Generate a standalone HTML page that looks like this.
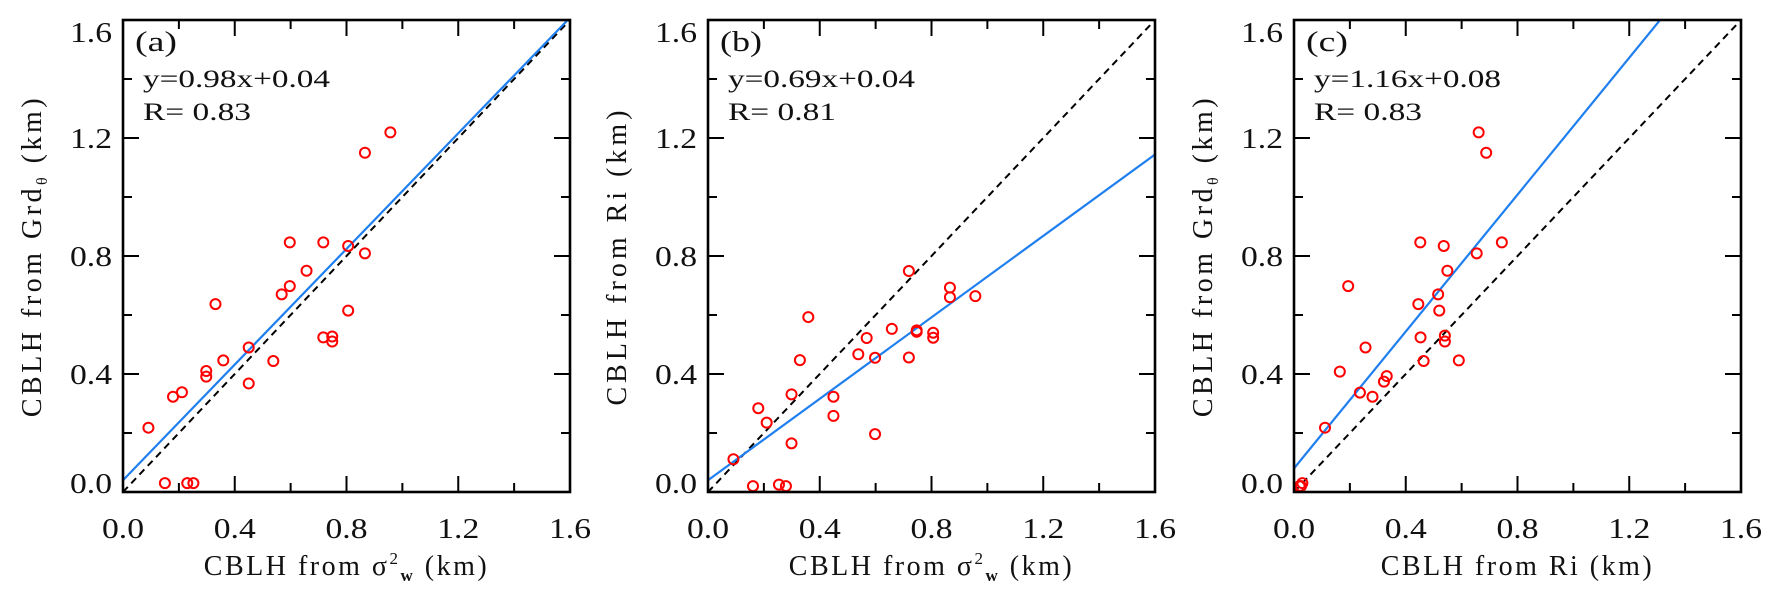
<!DOCTYPE html>
<html><head><meta charset="utf-8"><style>
body{margin:0;background:#fff;}
svg text{font-family:"Liberation Serif","DejaVu Serif",serif;fill:#111;}
</style></head><body>
<svg id="fig" width="1777" height="597" viewBox="0 0 1777 597" xmlns="http://www.w3.org/2000/svg"></svg>
<script>
// Panel (a): Grd_theta vs sigma2_w
const aX=[0.091,0.179,0.211,0.298,0.298,0.359,0.331,0.450,0.450,0.538,0.568,0.597,0.597,0.657,0.717,0.717,0.749,0.749,0.806,0.806,0.866,0.866,0.957,0.150,0.230,0.252];
const aY=[0.218,0.323,0.338,0.410,0.391,0.446,0.637,0.490,0.368,0.444,0.670,0.698,0.846,0.750,0.846,0.524,0.527,0.510,0.834,0.615,0.809,1.150,1.219,0.030,0.030,0.030];
// Panel (b): Ri vs sigma2_w
const bX=[0.091,0.180,0.210,0.299,0.299,0.329,0.359,0.449,0.449,0.538,0.568,0.598,0.598,0.658,0.719,0.719,0.747,0.747,0.806,0.806,0.866,0.866,0.957,0.161,0.254,0.279];
const bY=[0.111,0.284,0.235,0.331,0.165,0.447,0.593,0.323,0.258,0.467,0.522,0.455,0.196,0.553,0.749,0.456,0.548,0.543,0.540,0.523,0.693,0.660,0.664,0.020,0.025,0.020];
// Panel (c): Grd_theta vs Ri
const cX=[0.111,0.164,0.194,0.236,0.256,0.281,0.322,0.332,0.445,0.452,0.453,0.464,0.516,0.520,0.536,0.540,0.540,0.549,0.590,0.654,0.661,0.688,0.744,0.020,0.030,0.025];
const cY=[0.218,0.408,0.698,0.337,0.490,0.323,0.374,0.393,0.637,0.846,0.524,0.444,0.670,0.615,0.834,0.530,0.510,0.750,0.446,0.809,1.219,1.150,0.846,0.020,0.030,0.020];
const slopes=[0.98,0.69,1.16];
const intercepts=[0.04,0.04,0.08];
const rvals=["0.83","0.81","0.83"];
const tickVals=[0,0.4,0.8,1.2,1.6];
const minorVals=[0.2,0.6,1.0,1.4];
const tickLabels=["0.0","0.4","0.8","1.2","1.6"];

const NS="http://www.w3.org/2000/svg";
const svg=document.getElementById('fig');
function mk(tag,attrs,parent){const e=document.createElementNS(NS,tag);for(const k in attrs)e.setAttribute(k,attrs[k]);(parent||svg).appendChild(e);return e;}
const panels=[
 {left:123,letter:"(a)",xs:aX,ys:aY,xt:"CBLH from σ<tspan font-size='17' dy='-11'>2</tspan><tspan font-size='17' dy='17' font-weight='bold'>w</tspan><tspan dy='-6'> (km)</tspan>",yt:"CBLH from Grd<tspan font-size='16' dy='6'>θ</tspan><tspan dy='-6'> (km)</tspan>",ytl:341},
 {left:708,letter:"(b)",xs:bX,ys:bY,xt:"CBLH from σ<tspan font-size='17' dy='-11'>2</tspan><tspan font-size='17' dy='17' font-weight='bold'>w</tspan><tspan dy='-6'> (km)</tspan>",yt:"CBLH from Ri (km)",ytl:305},
 {left:1294,letter:"(c)",xs:cX,ys:cY,xt:"CBLH from Ri (km)",yt:"CBLH from Grd<tspan font-size='16' dy='6'>θ</tspan><tspan dy='-6'> (km)</tspan>",ytl:341}
];
const xtl=[322,322,272];
const W=447,TOP=20,BOT=492,H=BOT-TOP;
panels.forEach((p,i)=>{
 const L=p.left,R=L+W;
 const sx=v=>L+v/1.6*W, sy=v=>BOT-v/1.6*H;
 const g=mk('g',{});
 
 
 const cid='clip'+i;
 const cp=mk('clipPath',{id:cid},g);mk('rect',{x:L,y:TOP,width:W,height:H},cp);
 const d=mk('line',{x1:sx(0),y1:sy(0),x2:sx(1.6),y2:sy(1.6),stroke:'#000','stroke-width':2,'stroke-dasharray':'7,5','clip-path':`url(#${cid})`},g);
 
 
 const f=mk('line',{x1:sx(0),y1:sy(intercepts[i]),x2:sx(1.6),y2:sy(slopes[i]*1.6+intercepts[i]),stroke:'#1f7fef','stroke-width':2.2,'clip-path':`url(#${cid})`},g);
 
 
 p.xs.forEach((x,j)=>{
  const c=mk('circle',{cx:sx(x),cy:sy(p.ys[j]),r:5,fill:'none',stroke:'#f00','stroke-width':2},g);
  
  
 });
 const fr=mk('rect',{x:L,y:TOP,width:W,height:H,fill:'none',stroke:'#000','stroke-width':2.6},g);
 
 
 tickVals.forEach((v,k)=>{
  const X=sx(v),Y=sy(v);
  mk('line',{x1:X,y1:BOT,x2:X,y2:BOT-16,stroke:'#000','stroke-width':2},g);
  mk('line',{x1:X,y1:TOP,x2:X,y2:TOP+16,stroke:'#000','stroke-width':2},g);
  mk('line',{x1:L,y1:Y,x2:L+16,y2:Y,stroke:'#000','stroke-width':2},g);
  mk('line',{x1:R,y1:Y,x2:R-16,y2:Y,stroke:'#000','stroke-width':2},g);
  const xl=mk('text',{x:X,y:538,'font-size':28,'text-anchor':'middle',textLength:42,lengthAdjust:'spacingAndGlyphs'},g);xl.textContent=tickLabels[k];
  
  
  const cy=Math.min(483,Math.max(32,Y));
  const yl=mk('text',{x:L-53,y:cy+10,'font-size':28,textLength:42,lengthAdjust:'spacingAndGlyphs'},g);yl.textContent=tickLabels[k];
  
  
 });
 minorVals.forEach(v=>{
  const X=sx(v),Y=sy(v);
  mk('line',{x1:X,y1:BOT,x2:X,y2:BOT-9,stroke:'#000','stroke-width':2},g);
  mk('line',{x1:X,y1:TOP,x2:X,y2:TOP+9,stroke:'#000','stroke-width':2},g);
  mk('line',{x1:L,y1:Y,x2:L+9,y2:Y,stroke:'#000','stroke-width':2},g);
  mk('line',{x1:R,y1:Y,x2:R-9,y2:Y,stroke:'#000','stroke-width':2},g);
 });
 const lt=mk('text',{x:L+12,y:51,'font-size':28,textLength:42,lengthAdjust:'spacingAndGlyphs'},g);lt.textContent=p.letter;
 
 
 const eq=mk('text',{x:L+20,y:87,'font-size':25,textLength:187,lengthAdjust:'spacingAndGlyphs'},g);
 eq.textContent='y='+slopes[i].toFixed(2)+'x+'+intercepts[i].toFixed(2);
 
 
 const rt=mk('text',{x:L+20,y:120,'font-size':25,'xml:space':'preserve',textLength:108,lengthAdjust:'spacingAndGlyphs'},g);
 rt.textContent='R=  '+rvals[i];
 
 
 const xt=mk('text',{x:L+W/2,y:575,'font-size':28,'text-anchor':'middle','xml:space':'preserve','letter-spacing':'2.5'},g);
 xt.innerHTML=p.xt;
 
 
 const yt=mk('text',{x:0,y:0,'font-size':28,'text-anchor':'middle','letter-spacing':i===1?'4':'3.5',transform:`translate(${L-82},${(TOP+BOT)/2}) rotate(-90)`},g);
 yt.innerHTML=p.yt;
 
 
});
</script>
</body></html>
